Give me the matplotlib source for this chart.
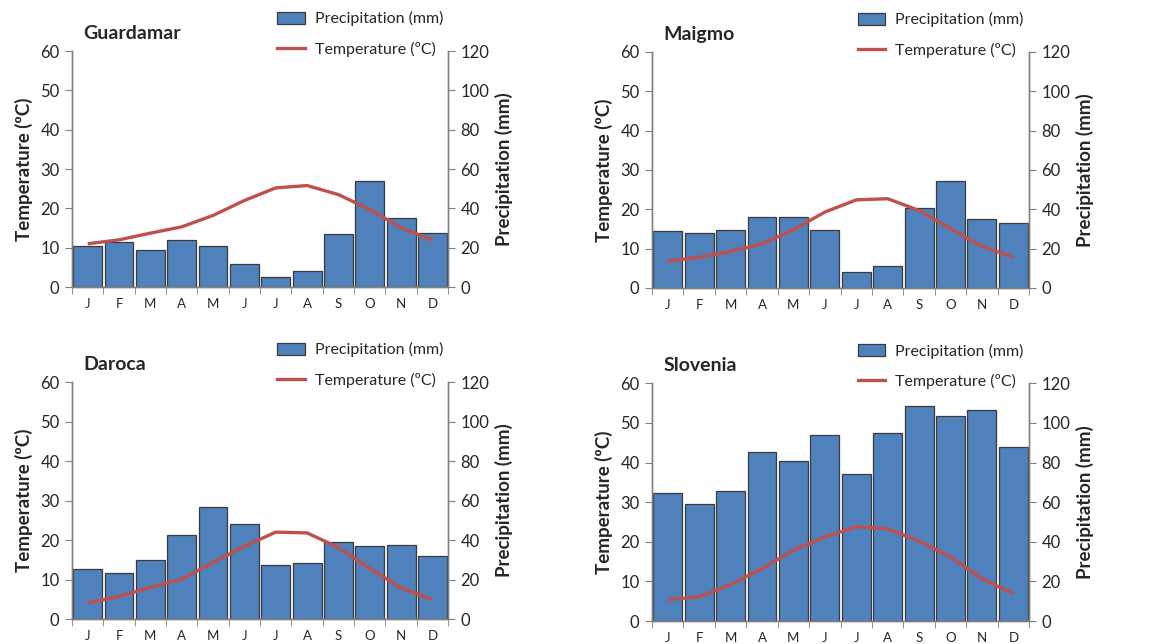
import numpy as np
import matplotlib
matplotlib.use('Agg')
import matplotlib.pyplot as plt
from matplotlib.patches import Patch
from matplotlib.lines import Line2D

plt.rcParams['font.family'] = ['Lato', 'DejaVu Sans']

months = ['J', 'F', 'M', 'A', 'M', 'J', 'J', 'A', 'S', 'O', 'N', 'D']

# precipitation (mm), right axis
guardamar_prec = [21.0, 23.1, 19.0, 24.1, 20.7, 11.9, 5.1, 8.3, 26.8, 53.7, 35.1, 27.6]
maigmo_prec = [28.9, 28.2, 29.4, 36.2, 36.3, 29.7, 7.9, 11.0, 40.7, 54.4, 35.0, 33.0]
daroca_prec = [25.2, 23.4, 29.8, 42.3, 56.5, 47.9, 27.6, 28.6, 38.9, 37.2, 37.6, 32.0]
slovenia_prec = [64.4, 59.2, 65.7, 85.1, 80.6, 94.0, 74.3, 95.1, 108.4, 103.3, 106.5, 88.1]

# temperature (ºC), left axis
guardamar_temp = [11.0, 12.0, 13.7, 15.3, 18.2, 22.0, 25.2, 25.8, 23.5, 19.7, 15.1, 11.9]
maigmo_temp = [6.8, 7.8, 9.3, 11.2, 14.8, 19.3, 22.4, 22.7, 19.7, 15.1, 10.6, 7.8]
daroca_temp = [4.1, 5.7, 8.0, 10.1, 14.3, 18.4, 22.0, 21.8, 18.1, 12.8, 7.9, 4.9]
slovenia_temp = [5.4, 6.1, 9.2, 13.2, 17.9, 21.2, 23.8, 23.3, 20.2, 16.2, 10.7, 6.9]

sites = ['Guardamar', 'Maigmo', 'Daroca', 'Slovenia']
precs = [guardamar_prec, maigmo_prec, daroca_prec, slovenia_prec]
temps = [guardamar_temp, maigmo_temp, daroca_temp, slovenia_temp]

bar_color = '#4F81BD'
line_color = '#C0504D'
spine_color = '#808080'
text_color = '#262626'

# axes rectangles [left, bottom, width, height] in figure fractions
rects = [
    [0.0627, 0.5543, 0.3273, 0.3665],
    [0.5675, 0.5528, 0.3281, 0.3665],
    [0.0627, 0.0388, 0.3273, 0.3680],
    [0.5675, 0.0357, 0.3281, 0.3690],
]

fig = plt.figure(figsize=(11.49, 6.44), dpi=100)

for name, prec, temp, rect in zip(sites, precs, temps, rects):
    ax = fig.add_axes(rect)
    ax2 = ax.twinx()
    # temperature line must be drawn over the bars
    ax.set_zorder(ax2.get_zorder() + 1)
    ax.patch.set_visible(False)

    x = np.arange(len(months))
    ax2.bar(x, prec, width=0.92, color=bar_color, edgecolor='#3a3a3a', linewidth=0.9)
    ax.plot(x, temp, color=line_color, lw=2.4, solid_capstyle='butt')

    ax.set_xlim(-0.5, 11.5)
    ax.set_ylim(0, 60)
    ax2.set_ylim(0, 120)
    ax.set_yticks(np.arange(0, 61, 10))
    ax2.set_yticks(np.arange(0, 121, 20))

    ax.set_xticks(x)
    ax.set_xticklabels(months, fontsize=9.5, color=text_color)
    ax.set_xticks(np.arange(-0.5, 12, 1), minor=True)
    ax.tick_params(axis='x', which='major', length=0, pad=8)
    ax.tick_params(axis='x', which='minor', length=5, color=spine_color, direction='out')
    ax.tick_params(axis='y', length=5, color=spine_color, labelsize=12,
                   labelcolor=text_color, pad=4)
    ax2.tick_params(axis='y', length=5, color=spine_color, labelsize=12,
                    labelcolor=text_color, pad=4)
    ax2.tick_params(axis='x', length=0)

    for a in (ax, ax2):
        a.spines['top'].set_visible(False)
        for s in ('left', 'right', 'bottom'):
            a.spines[s].set_color(spine_color)
            a.spines[s].set_linewidth(1.0)

    ax.set_ylabel('Temperature (ºC)', fontsize=13.5, fontweight='bold',
                  color=text_color, labelpad=5)
    ax2.set_ylabel('Precipitation (mm)', fontsize=13.5, fontweight='bold',
                   color=text_color, labelpad=4)

    ax.text(0.03, 1.075, name, transform=ax.transAxes, fontsize=14,
            fontweight='bold', color=text_color, va='center', ha='left')

    handles = [Patch(facecolor=bar_color, edgecolor='#3a3a3a', linewidth=0.9),
               Line2D([0], [0], color=line_color, lw=2.4)]
    ax.legend(handles, ['Precipitation (mm)', 'Temperature (ºC)'],
              loc='center left', bbox_to_anchor=(0.545, 1.072), frameon=False,
              fontsize=11.5, handlelength=1.75, handleheight=0.8,
              handletextpad=0.6, labelspacing=0.95, borderpad=0,
              borderaxespad=0, labelcolor=text_color)

fig.savefig('out.png', dpi=100)
